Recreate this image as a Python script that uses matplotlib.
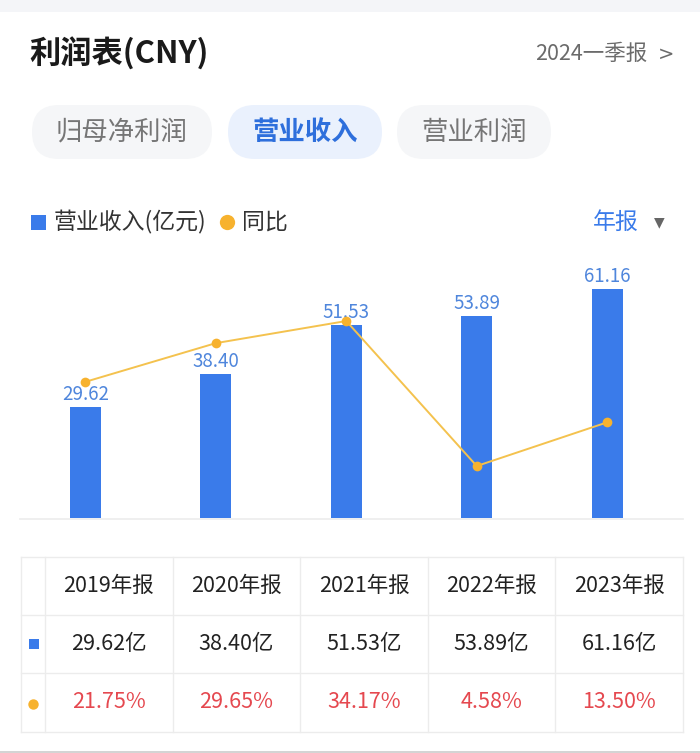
import matplotlib
matplotlib.use("Agg")
import matplotlib.pyplot as plt
import numpy as np
from matplotlib.patches import FancyBboxPatch, Rectangle

plt.rcParams['font.family'] = ['Noto Sans CJK SC', 'DejaVu Sans']

# ---- data ----
years = ["2019年报", "2020年报", "2021年报", "2022年报", "2023年报"]
revenue = [29.62, 38.40, 51.53, 53.89, 61.16]      # 营业收入(亿元)
yoy = [21.75, 29.65, 34.17, 4.58, 13.50]            # 同比 %
tabs = ["归母净利润", "营业收入", "营业利润"]

BLUE = "#3a7bea"
LABEL_BLUE = "#4f86dc"
ORANGE = "#f7b22e"
LINE_Y = "#f4c24e"
RED = "#e5484f"
GRID = "#ececec"

W, H = 700, 753
fig = plt.figure(figsize=(W / 100, H / 100), dpi=100, facecolor="white")

# overlay in pixel coords (y downwards)
ov = fig.add_axes([0, 0, 1, 1])
ov.set_xlim(0, W)
ov.set_ylim(H, 0)
ov.axis("off")

ov.add_patch(Rectangle((0, 0), W, 12, color="#f4f5f8", lw=0))
ov.add_patch(Rectangle((0, 751), W, 2, color="#d4d4d4", lw=0))

# header
ov.text(29, 54, "利润表(CNY)", fontsize=22.5, fontweight="bold", color="#1a1a1a",
        ha="left", va="center")
ov.text(647, 54, "2024一季报", fontsize=15.5, color="#6b6b6b", ha="right", va="center")
ov.text(666, 54, ">", fontsize=14, color="#6b6b6b", ha="center", va="center",
        family="DejaVu Sans")

# tabs
pill_x = [(32, 212), (228, 382), (397, 551)]
for (x0, x1), name in zip(pill_x, tabs):
    active = name == "营业收入"
    ov.add_patch(FancyBboxPatch((x0, 105), x1 - x0, 54,
                                boxstyle="round,pad=0,rounding_size=27",
                                fc="#eaf1fd" if active else "#f5f6f8", ec="none"))
    ov.text((x0 + x1) / 2, 132, name, fontsize=19,
            color="#2e6fdc" if active else "#767676",
            fontweight="bold" if active else "normal", ha="center", va="center")

# legend row
ov.add_patch(Rectangle((31, 215), 15, 15, color=BLUE, lw=0))
ov.text(54, 222, "营业收入(亿元)", fontsize=16.5, color="#333333", ha="left", va="center")
ov.plot([226.5], [222], "o", color=ORANGE, ms=11, mec="none")
ov.text(242, 222, "同比", fontsize=16.5, color="#333333", ha="left", va="center")
ov.text(639, 222, "年报", fontsize=16.5, color="#3a7bea", ha="right", va="center")
ov.text(659, 222, "▼", fontsize=10, color="#666666", ha="center", va="center",
        family="DejaVu Sans")

# chart baseline
ov.plot([20, 683], [518.5, 518.5], color=GRID, lw=1.2)

# ---- chart ----
ax = fig.add_axes([20 / W, 1 - 518 / H, 652.5 / W, 258 / H])
ax.set_facecolor("none")
x = np.arange(len(years))
ax.bar(x, revenue, width=0.24, color=BLUE, zorder=2)
for xi, v in zip(x, revenue):
    ax.annotate(f"{v:.2f}", (xi, v), xytext=(0, 1.5), textcoords="offset points",
                ha="center", va="bottom", fontsize=13.5, color=LABEL_BLUE, zorder=3)
ax.set_xlim(-0.5, 4.5)
ax.set_ylim(0, 68.8)
ax.axis("off")

ax2 = ax.twinx()
ax2.plot(x, yoy, color=LINE_Y, lw=1.4, zorder=4)
ax2.plot(x, yoy, "o", color=ORANGE, ms=7, mec="none", zorder=5)
ax2.set_ylim(-6.03, 46.62)
ax2.axis("off")

# ---- table ----
col_edges = [21, 45] + [45 + 127.6 * (i + 1) for i in range(len(years))]
row_edges = [557, 615, 673, 732]
for xe in col_edges:
    ov.plot([xe, xe], [row_edges[0], row_edges[-1]], color=GRID, lw=1)
for ye in row_edges:
    ov.plot([col_edges[0], col_edges[-1]], [ye, ye], color=GRID, lw=1)

rows_y = [(row_edges[i] + row_edges[i + 1]) / 2 for i in range(3)]
for i, (yr, rv, yy) in enumerate(zip(years, revenue, yoy)):
    cx = (col_edges[i + 1] + col_edges[i + 2]) / 2
    ov.text(cx, rows_y[0], yr, fontsize=15.5, color="#222222", ha="center", va="center")
    ov.text(cx, rows_y[1], f"{rv:.2f}亿", fontsize=15.5, color="#222222",
            ha="center", va="center")
    ov.text(cx, rows_y[2], f"{yy:.2f}%", fontsize=15.5, color=RED,
            ha="center", va="center")

ov.add_patch(Rectangle((29, rows_y[1] - 5), 10, 10, color=BLUE, lw=0))
ov.plot([33], [rows_y[2] + 1], "o", color=ORANGE, ms=7.5, mec="none")

plt.savefig("out.png", dpi=100, facecolor="white")
